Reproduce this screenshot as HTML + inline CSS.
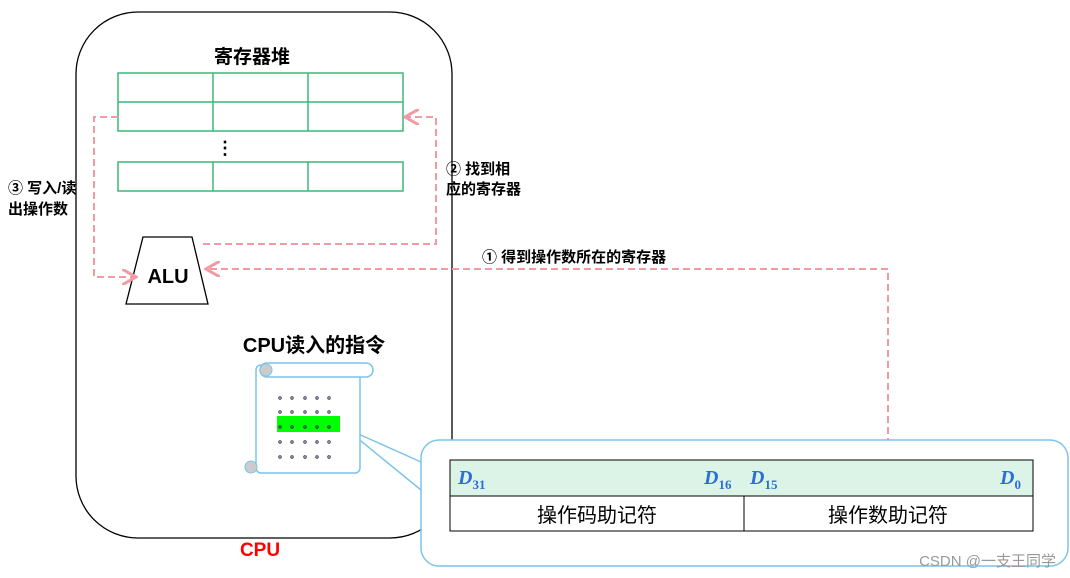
<html><head><style>body{margin:0;background:#fff}</style></head><body>
<svg width="1070" height="578" xmlns="http://www.w3.org/2000/svg" font-family="Liberation Sans, Noto Sans CJK SC, sans-serif">
<defs><marker id="a" markerWidth="8" markerHeight="8" refX="6" refY="4" orient="auto"><path d="M0,0 L7,4 L0,8" fill="none" stroke="#f09aa4" stroke-width="1.5"/></marker></defs>
<rect x="76" y="12" width="376" height="526" rx="62" fill="none" stroke="#000" stroke-width="1.3"/>
<text x="252" y="63" font-size="19" font-weight="bold" text-anchor="middle">寄存器堆</text>
<g fill="none" stroke="#3cb878" stroke-width="1.5">
<rect x="118" y="73" width="285" height="58"/><line x1="118" y1="102" x2="403" y2="102"/>
<line x1="213" y1="73" x2="213" y2="131"/><line x1="308" y1="73" x2="308" y2="131"/>
<rect x="118" y="162" width="285" height="29"/><line x1="213" y1="162" x2="213" y2="191"/><line x1="308" y1="162" x2="308" y2="191"/>
</g>
<text x="225" y="154" font-size="18" font-weight="bold" text-anchor="middle">⋮</text>
<polygon points="143,237 192,237 208,304 126,304" fill="#fff" stroke="#000" stroke-width="1.3"/>
<text x="168" y="283" font-size="20" font-weight="bold" text-anchor="middle">ALU</text>
<g fill="none" stroke="#f09aa4" stroke-width="2" stroke-dasharray="7,4">
<polyline points="118,117 94,117 94,277 134,277" marker-end="url(#a)"/>
<polyline points="203,244 436,244 436,117 407,117" marker-end="url(#a)"/>
<polyline points="888,500 888,269 208,269" marker-end="url(#a)"/>
<rect x="807" y="500" width="162" height="28"/>
</g>
<text x="8" y="193" font-size="15" font-weight="bold">③ 写入/读</text>
<text x="8" y="214" font-size="15" font-weight="bold">出操作数</text>
<text x="446" y="174" font-size="15" font-weight="bold">② 找到相</text>
<text x="446" y="194" font-size="15" font-weight="bold">应的寄存器</text>
<text x="482" y="262" font-size="15" font-weight="bold">① 得到操作数所在的寄存器</text>
<text x="314" y="352" font-size="20" font-weight="bold" text-anchor="middle">CPU读入的指令</text>
<path d="M421,490 L345,428 L421,462" fill="#fff" stroke="#7cc4ea" stroke-width="1.5"/>
<rect x="421" y="440" width="647" height="126" rx="18" fill="#fff" stroke="#7cc4ea" stroke-width="1.5"/>
<rect x="256" y="365" width="104" height="108" rx="5" fill="#fff" stroke="#7cc4ea" stroke-width="1.5"/>
<rect x="260" y="363" width="113" height="14" rx="7" fill="#fff" stroke="#7cc4ea" stroke-width="1.5"/>
<circle cx="266" cy="370" r="6" fill="#ccc" stroke="#7cc4ea"/>
<circle cx="251" cy="467" r="6" fill="#ccc" stroke="#7cc4ea"/>
<rect x="277" y="416" width="63" height="16" fill="#00ff00"/>
<g fill="none" stroke="#335" stroke-width="1">
<g id="r"><circle cx="280" cy="398" r="1.2"/><circle cx="292" cy="398" r="1.2"/><circle cx="305" cy="398" r="1.2"/><circle cx="317" cy="398" r="1.2"/><circle cx="329" cy="398" r="1.2"/></g>
<use href="#r" y="14"/><use href="#r" y="29"/><use href="#r" y="44"/><use href="#r" y="59"/>
</g>
<rect x="450" y="460" width="583" height="36" fill="#dcf3e8" stroke="#000"/>
<rect x="450" y="496" width="583" height="35" fill="none" stroke="#000"/>
<line x1="744" y1="496" x2="744" y2="531" stroke="#000"/>
<g fill="#2b6fd6" font-family="Liberation Serif, serif" font-style="italic" font-weight="bold" font-size="20">
<text x="458" y="484">D<tspan font-size="13" font-style="normal" dy="5">31</tspan></text>
<text x="704" y="484">D<tspan font-size="13" font-style="normal" dy="5">16</tspan></text>
<text x="750" y="484">D<tspan font-size="13" font-style="normal" dy="5">15</tspan></text>
<text x="1000" y="484">D<tspan font-size="13" font-style="normal" dy="5">0</tspan></text>
</g>
<text x="597" y="522" font-size="20" text-anchor="middle">操作码助记符</text>
<text x="888" y="522" font-size="20" text-anchor="middle">操作数助记符</text>
<text x="260" y="556" font-size="19" font-weight="bold" fill="#f00" text-anchor="middle">CPU</text>
<text x="1056" y="566" font-size="15" fill="#999" text-anchor="end">CSDN @一支王同学</text>
</svg></body></html>
